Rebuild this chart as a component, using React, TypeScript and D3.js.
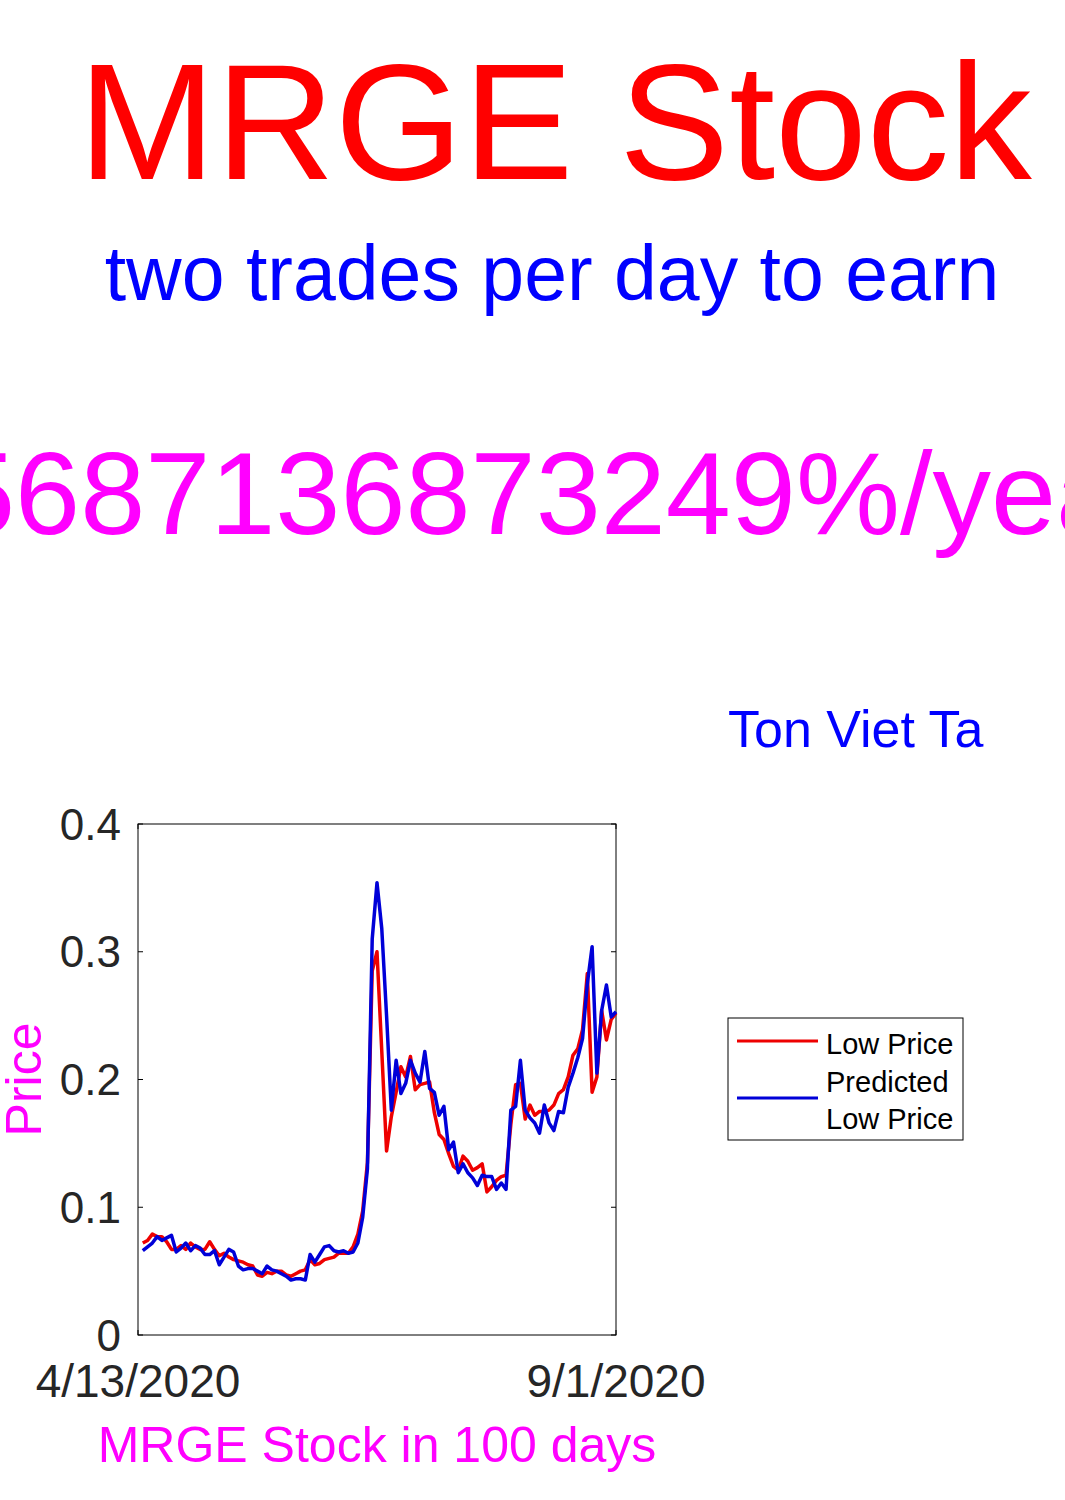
import React from "react";
import * as d3 from "d3";

const lowPrice = [
  0.072, 0.074, 0.079, 0.077, 0.077, 0.073, 0.067, 0.067, 0.070, 0.067,
  0.072, 0.069, 0.067, 0.067, 0.073, 0.067, 0.062, 0.064, 0.061, 0.059,
  0.058, 0.057, 0.055, 0.054, 0.047, 0.046, 0.049, 0.048, 0.050, 0.050,
  0.047, 0.046, 0.048, 0.050, 0.051, 0.059, 0.055, 0.056, 0.059, 0.060,
  0.061, 0.064, 0.064, 0.064, 0.069, 0.079, 0.097, 0.135, 0.285, 0.300,
  0.222, 0.144, 0.171, 0.190, 0.210, 0.202, 0.218, 0.192, 0.196, 0.197,
  0.198, 0.174, 0.157, 0.153, 0.142, 0.132, 0.129, 0.140, 0.136, 0.129,
  0.131, 0.134, 0.112, 0.116, 0.121, 0.124, 0.125, 0.165, 0.196, 0.197,
  0.169, 0.180, 0.172, 0.175, 0.175, 0.176, 0.180, 0.189, 0.192, 0.202,
  0.219, 0.224, 0.239, 0.283, 0.190, 0.202, 0.254, 0.231, 0.247, 0.252,
];

const predictedLowPrice = [
  0.066, 0.069, 0.072, 0.077, 0.074, 0.076, 0.078, 0.065, 0.068, 0.072,
  0.066, 0.070, 0.068, 0.063, 0.063, 0.066, 0.055, 0.061, 0.067, 0.065,
  0.054, 0.051, 0.052, 0.052, 0.050, 0.048, 0.054, 0.051, 0.050, 0.048,
  0.046, 0.043, 0.044, 0.044, 0.043, 0.063, 0.057, 0.063, 0.069, 0.070,
  0.066, 0.065, 0.066, 0.064, 0.065, 0.072, 0.092, 0.130, 0.310, 0.354,
  0.318, 0.250, 0.176, 0.215, 0.189, 0.197, 0.215, 0.205, 0.198, 0.222,
  0.193, 0.190, 0.172, 0.179, 0.145, 0.151, 0.127, 0.134, 0.127, 0.123,
  0.117, 0.125, 0.124, 0.124, 0.114, 0.119, 0.114, 0.176, 0.179, 0.215,
  0.176, 0.170, 0.166, 0.158, 0.180, 0.166, 0.160, 0.175, 0.174, 0.194,
  0.205, 0.217, 0.232, 0.275, 0.304, 0.205, 0.254, 0.274, 0.249, 0.253,
];

const yTicks = [0, 0.1, 0.2, 0.3, 0.4];
const yTickLabels = ["0", "0.1", "0.2", "0.3", "0.4"];
const xTickPositions = [0, 100];
const xTickLabels = ["4/13/2020", "9/1/2020"];
const legendLabels = ["Low Price", "Predicted", "Low Price"];

const FONT = "'Liberation Sans', Arial, Helvetica, sans-serif";

export default function App() {
  const left = 138, right = 616, top = 824, bottom = 1335;
  const x = d3.scaleLinear().domain([0, 100]).range([left, right]);
  const y = d3.scaleLinear().domain([0, 0.4]).range([bottom, top]);
  const line = d3
    .line<number>()
    .x((_, i) => x(i + 1))
    .y((d) => y(d));

  const tickColor = "#262626";
  const redLine = "#ee0000";
  const blueLine = "#0000d8";

  return (
    <svg
      width={1065}
      height={1500}
      style={{ position: "absolute", left: 0, top: 0, background: "#fff" }}
      fontFamily={FONT}
    >
      <rect x={0} y={0} width={1065} height={1500} fill="#fff" />
      <text x={555} y={179} fontSize={165} fill="#ff0000" textAnchor="middle">
        MRGE Stock
      </text>
      <text x={552} y={300} fontSize={77} fill="#0000ff" textAnchor="middle">
        two trades per day to earn
      </text>
      <text x={-50} y={534} fontSize={117} fill="#ff00ff">
        5687136873249%/year
      </text>
      <text x={728} y={747} fontSize={52} fill="#0000ff">
        Ton Viet Ta
      </text>

      {/* axes box */}
      <rect
        x={left}
        y={top}
        width={right - left}
        height={bottom - top}
        fill="none"
        stroke="#000"
        strokeWidth={1}
      />
      {yTicks.map((t, i) => (
        <g key={"yt" + i}>
          <line x1={left} x2={left + 5} y1={y(t)} y2={y(t)} stroke="#000" />
          <line x1={right} x2={right - 5} y1={y(t)} y2={y(t)} stroke="#000" />
          <text
            x={left - 17}
            y={y(t)}
            fontSize={44}
            fill={tickColor}
            textAnchor="end"
            dominantBaseline="central"
          >
            {yTickLabels[i]}
          </text>
        </g>
      ))}
      {xTickPositions.map((p, i) => (
        <g key={"xt" + i}>
          <line x1={x(p)} x2={x(p)} y1={bottom} y2={bottom - 5} stroke="#000" />
          <line x1={x(p)} x2={x(p)} y1={top} y2={top + 5} stroke="#000" />
          <text
            x={x(p)}
            y={1397}
            fontSize={46}
            fill={tickColor}
            textAnchor="middle"
          >
            {xTickLabels[i]}
          </text>
        </g>
      ))}

      <text
        x={(left + right) / 2}
        y={1462}
        fontSize={50}
        fill="#ff00ff"
        textAnchor="middle"
      >
        MRGE Stock in 100 days
      </text>
      <text
        transform={`translate(41, ${(top + bottom) / 2}) rotate(-90)`}
        fontSize={50}
        fill="#ff00ff"
        textAnchor="middle"
      >
        Price
      </text>

      <path
        d={line(lowPrice) || ""}
        fill="none"
        stroke={redLine}
        strokeWidth={3.5}
        strokeLinejoin="round"
      />
      <path
        d={line(predictedLowPrice) || ""}
        fill="none"
        stroke={blueLine}
        strokeWidth={3.5}
        strokeLinejoin="round"
      />

      {/* legend */}
      <rect
        x={728}
        y={1018}
        width={235}
        height={122}
        fill="#fff"
        stroke="#000"
        strokeWidth={1}
      />
      <line x1={737} x2={818} y1={1041} y2={1041} stroke={redLine} strokeWidth={3} />
      <line x1={737} x2={818} y1={1098} y2={1098} stroke={blueLine} strokeWidth={3} />
      {legendLabels.map((l, i) => (
        <text key={"lg" + i} x={826} y={1054 + i * 37.5} fontSize={29} fill="#000">
          {l}
        </text>
      ))}
    </svg>
  );
}
